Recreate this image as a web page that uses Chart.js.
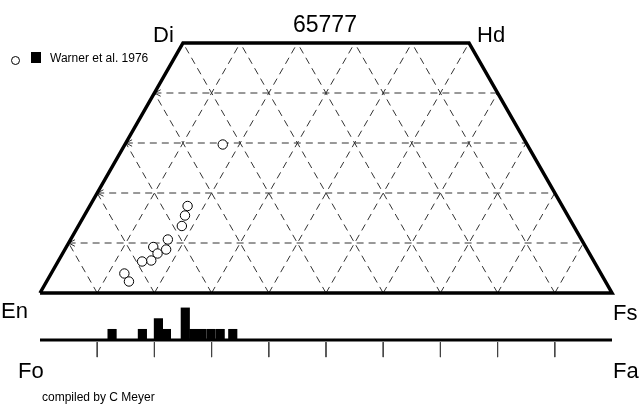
<!DOCTYPE html>
<html lang="en">
<head>
    <meta charset="UTF-8">
    <title>65777 pyroxene quadrilateral</title>
    <script src="https://cdn.jsdelivr.net/npm/chart.js"></script>
    <style>
        body { margin: 0; background: #fff; }
        .wrap {
            position: relative;
            width: 643px;
            height: 411px;
            font-family: Arial, "Liberation Sans", sans-serif;
            color: #000;
        }
        canvas { position: absolute; left: 0; top: 0; }
        .lbl { position: absolute; font-size: 22px; line-height: 1; white-space: nowrap; }
        .small { position: absolute; font-size: 12px; line-height: 1; white-space: nowrap; }
        .mark-circle {
            position: absolute; left: 11px; top: 56px;
            width: 7px; height: 7px; border: 1px solid #000; border-radius: 50%;
        }
        .mark-square {
            position: absolute; left: 31px; top: 52px;
            width: 10px; height: 11px; background: #000;
        }
    </style>
</head>
<body>
<div class="wrap">
    <canvas id="quad" width="643" height="411"></canvas>

    <div class="lbl" style="left:293px; top:13px; font-size:23px;">65777</div>
    <div class="lbl" style="left:153px; top:24px;">Di</div>
    <div class="lbl" style="left:477px; top:24px;">Hd</div>
    <div class="lbl" style="left:1px; top:300px;">En</div>
    <div class="lbl" style="left:613px; top:302px;">Fs</div>
    <div class="lbl" style="left:18px; top:360px;">Fo</div>
    <div class="lbl" style="left:613px; top:360px;">Fa</div>

    <span class="mark-circle"></span>
    <span class="mark-square"></span>
    <div class="small" style="left:50px; top:52px;">Warner et al. 1976</div>
    <div class="small" style="left:42px; top:391px;">compiled by C Meyer</div>
</div>

<script>
    // pyroxene analyses (mol %)
    const woValues = [17.4, 15.5, 13.4, 10.7, 8.7, 9.2, 7.9, 6.5, 6.3, 3.9, 2.3, 29.7];
    const fsValues = [17.1, 17.6, 18.1, 17.0, 17.7, 15.2, 16.6, 16.2, 14.7, 12.8, 14.4, 17.1];

    // olivine histogram (Fa mol %, number of analyses)
    const faBins = [12.6, 17.9, 20.7, 22.1, 25.4, 26.9, 28.3, 29.9, 31.5, 33.7];
    const faCounts = [1, 1, 2, 1, 3, 1, 1, 1, 1, 1];

    // grid
    const gridSteps = [10, 20, 30, 40, 50, 60, 70, 80, 90];
    const woLines = [10, 20, 30, 40];

    // ternary -> plane (x along En-Fs, y = Wo)
    const tern = (wo, fs) => ({ x: fs + wo / 2, y: wo });

    const datasets = [];

    // analyses
    datasets.push({
        type: 'scatter',
        data: woValues.map((w, i) => tern(w, fsValues[i])),
        pointRadius: 4.7,
        pointBackgroundColor: '#fff',
        pointBorderColor: '#000',
        pointBorderWidth: 1,
        order: 0
    });

    // outline of the quadrilateral
    datasets.push({
        type: 'scatter',
        showLine: true,
        data: [tern(0, 0), tern(50, 0), tern(50, 50), tern(0, 100), tern(0, 0)],
        borderColor: '#000',
        borderWidth: 3.5,
        pointRadius: 0,
        borderJoinStyle: 'miter',
        order: 1
    });

    const dashed = pts => ({
        type: 'scatter',
        showLine: true,
        data: pts,
        borderColor: '#333',
        borderWidth: 1,
        borderDash: [7, 5],
        pointRadius: 0,
        order: 2
    });
    const solid = pts => ({
        type: 'scatter',
        showLine: true,
        data: pts,
        borderColor: '#333',
        borderWidth: 1,
        pointRadius: 0,
        order: 2
    });

    // constant Wo lines with arrow on the left
    woLines.forEach(w => {
        const a = tern(w, 0), b = tern(w, 100 - w);
        datasets.push(dashed([a, b]));
        datasets.push(solid([{ x: a.x + 1.1, y: w + 0.65 }, a, { x: a.x + 1.1, y: w - 0.65 }]));
    });

    // constant Fs lines (up to the right) and constant En lines (up to the left)
    gridSteps.forEach(s => {
        const top1 = Math.min(50, 100 - s);
        datasets.push(dashed([tern(0, s), tern(top1, s)]));
        const top2 = Math.min(50, s);
        datasets.push(dashed([tern(0, s), tern(top2, s - top2)]));
    });

    // olivine axis and ticks
    datasets.push({
        type: 'scatter',
        showLine: true,
        yAxisID: 'yh',
        data: [{ x: 0, y: 0 }, { x: 100, y: 0 }],
        borderColor: '#000',
        borderWidth: 3,
        pointRadius: 0,
        order: 0
    });
    gridSteps.forEach(s => {
        datasets.push({
            type: 'scatter',
            showLine: true,
            yAxisID: 'yh',
            data: [{ x: s, y: -0.2 }, { x: s, y: -1.6 }],
            borderColor: '#444',
            borderWidth: 1,
            pointRadius: 0,
            order: 2
        });
    });

    // olivine histogram
    datasets.push({
        type: 'bar',
        yAxisID: 'yh',
        data: faBins.map((f, i) => ({ x: f, y: faCounts[i] })),
        backgroundColor: '#000',
        barThickness: 8.5,
        order: 1
    });

    new Chart(document.getElementById('quad'), {
        type: 'scatter',
        data: { datasets },
        options: {
            responsive: false,
            animation: false,
            events: [],
            layout: { padding: 0, autoPadding: false },
            plugins: { legend: { display: false }, tooltip: { enabled: false } },
            scales: {
                x: { type: 'linear', display: false, offset: false, min: -6.993, max: 105.42 },
                y: { type: 'linear', display: false, min: -23.6, max: 58.6 },
                yh: { type: 'linear', display: false, min: -6.636, max: 31.776 }
            }
        }
    });
</script>
</body>
</html>
